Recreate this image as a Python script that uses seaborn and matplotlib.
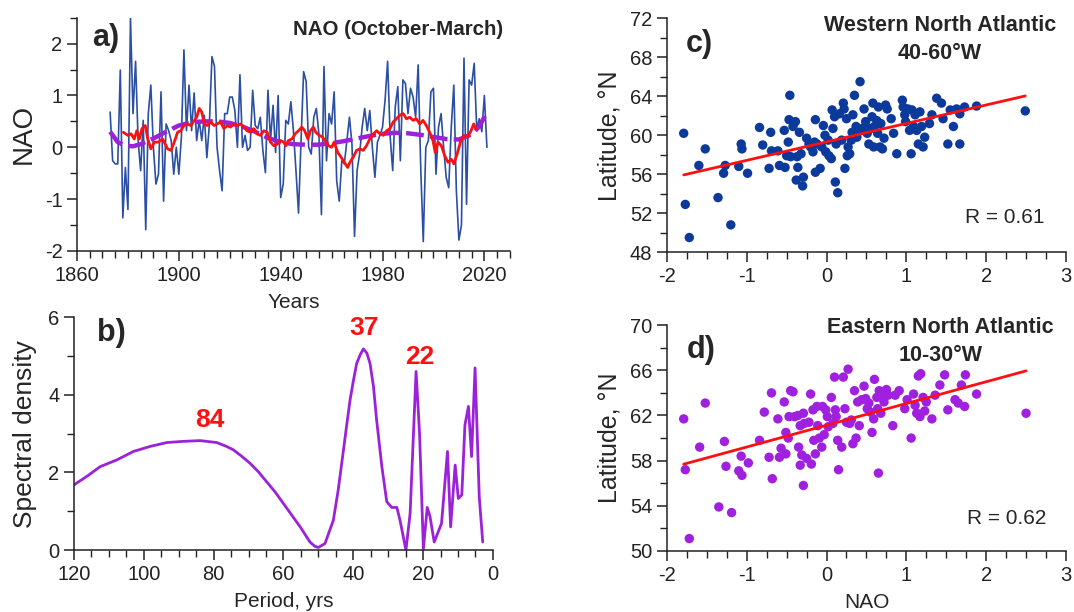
import numpy as np
import pandas as pd
import matplotlib
matplotlib.use("Agg")
import matplotlib.pyplot as plt
from matplotlib.ticker import MultipleLocator, FixedLocator
import seaborn as sns

# ---------------- data ----------------
nao_years = list(range(1873, 2022))
nao_values = [
    0.68, -0.26, -0.32, -0.32, 1.49, -1.36, -0.39, -1.2, 2.5, 0.65,      # 1873-1882
    1.66, 0.13, -0.45, 0.52, -1.59, 0.65, 1.2, 0.0, -0.71, -0.52,        # 1883-1892
    1.07, -1.04, 0.45, 0.32, 0.13, -0.52, 0.0, -0.52, 0.2, 1.88,         # 1893-1902
    0.32, 1.2, 0.32, 1.05, 0.13, 0.52, 0.13, 0.62, -0.2, 0.45,           # 1903-1912
    1.75, 1.56, 0.0, -0.45, -0.84, 0.65, 0.65, 0.97, 0.97, 0.71,         # 1913-1922
    0.0, 1.4, 0.0, 0.23, -0.06, 0.0, 1.1, 0.42, 0.36, 0.58,              # 1923-1932
    -0.06, -0.49, 1.1, 0.13, 0.81, -0.1, 1.0, -0.97, -0.71, 0.52,        # 1933-1942
    0.45, 0.88, 0.32, -0.45, -1.27, 0.13, 1.46, 1.27, 0.0, -0.13,        # 1943-1952
    0.58, 0.75, 0.26, -1.3, 1.56, -0.26, 0.65, 0.45, 1.07, -0.65,        # 1953-1962
    -1.04, -0.26, -0.32, 0.13, 0.58, 0.06, -1.72, -0.45, -0.13, 0.39,    # 1963-1972
    0.75, 0.32, 0.71, 0.0, -0.58, 0.1, 0.23, 0.39, 0.91, 1.66,           # 1973-1982
    0.2, -0.45, 0.78, 1.17, -0.26, 1.3, 1.23, 0.65, 1.14, 0.97,          # 1983-1992
    0.58, 1.59, -0.39, -1.82, 0.0, 0.13, 1.07, 1.14, -0.52, 0.39,        # 1993-2002
    0.65, 0.0, -0.58, -0.78, 0.39, 1.2, -0.84, -1.79, -1.5, 1.72,        # 2003-2012
    -1.1, 1.3, 1.2, 1.62, 0.35, 0.55, 0.3, 1.0, 0.0,                      # 2013-2021
]

# running mean curve (red)
red_years = [1878.2, 1880, 1881.2, 1882.5, 1883.5, 1884.5, 1885.5, 1886.8, 1887.8, 1889,
             1890.4, 1892, 1893.6, 1895.6, 1896.9, 1898.2, 1899.5, 1900.8, 1902, 1903.4,
             1904.7, 1905.7, 1907, 1908, 1909, 1910, 1911.2, 1912.5, 1913.8, 1915,
             1916.4, 1917.7, 1919, 1920.3, 1921.6, 1922.9, 1924.2, 1925.5, 1926.8, 1928.1,
             1929.4, 1930.7, 1932, 1933.4, 1934.7, 1936, 1937.3, 1938.6, 1939.9, 1941.2,
             1942, 1943, 1944.4, 1945.7, 1947, 1948.3, 1949.4, 1950.7, 1951.7, 1952.8,
             1953.8, 1955.1, 1956.4, 1957.7, 1958.8, 1960, 1961, 1962.4, 1963.7, 1965,
             1966.3, 1967.2, 1968.5, 1969.8, 1971.1, 1972.4, 1973.7, 1975, 1976.4, 1977.7,
             1979, 1980.3, 1981.6, 1982.9, 1984.2, 1985.5, 1986.8, 1988.1, 1989.4, 1990.7,
             1992, 1993.3, 1994.6, 1995.9, 1997.2, 1998.5, 1999.8, 2000.7, 2001.8, 2003.1,
             2004.4, 2005.7, 2007, 2008, 2009.3, 2010.6, 2011.9, 2013.2, 2014.5, 2015.8,
             2016.7]
red_values = [0.29, 0.23, 0.26, 0.16, 0.32, 0.16, 0.36, 0.42, 0.16, -0.03,
              0.1, 0.1, 0.16, -0.03, -0.06, 0.1, 0.29, 0.32, 0.42, 0.45,
              0.42, 0.49, 0.58, 0.75, 0.68, 0.45, 0.42, 0.49, 0.42, 0.45,
              0.49, 0.36, 0.42, 0.39, 0.45, 0.42, 0.45, 0.39, 0.32, 0.29,
              0.36, 0.26, 0.23, 0.32, 0.29, 0.1, 0.03, 0.06, 0.13, 0.1,
              0.03, 0.13, 0.16, 0.26, 0.32, 0.39, 0.32, 0.16, 0.32, 0.39,
              0.29, 0.23, 0.2, 0.1, 0.03, 0.0, 0.1, -0.1, -0.19, -0.29,
              -0.39, -0.29, -0.19, -0.06, -0.03, -0.06, 0.03, 0.16, 0.26, 0.32,
              0.26, 0.23, 0.32, 0.36, 0.49, 0.55, 0.62, 0.65, 0.55, 0.58,
              0.52, 0.55, 0.45, 0.52, 0.42, 0.29, 0.13, -0.1, 0.1, 0.03,
              -0.16, -0.29, -0.23, -0.32, -0.13, 0.1, 0.23, 0.2, 0.29, 0.45,
              0.36]

# smooth trend (purple dashed)
trend_years = [1873, 1876, 1879, 1882, 1885, 1890, 1895, 1900, 1905, 1910, 1915, 1920,
               1925, 1930, 1935, 1940, 1945, 1950, 1955, 1960, 1965, 1970, 1975, 1980,
               1985, 1990, 1995, 2000, 2005, 2010, 2015, 2018, 2021]
trend_values = [0.3, 0.1, 0.03, 0.02, 0.06, 0.17, 0.3, 0.42, 0.48, 0.5, 0.5, 0.47,
                0.4, 0.3, 0.18, 0.1, 0.06, 0.05, 0.05, 0.08, 0.12, 0.17, 0.22, 0.26,
                0.28, 0.27, 0.24, 0.2, 0.16, 0.15, 0.25, 0.4, 0.68]

# spectrum (panel b)
period = [120, 116, 112.5, 107.8, 103, 98.2, 93.4, 88.7, 83.9, 79.1, 76.3, 74.3, 72,
          69.6, 67.2, 64.8, 62.4, 60, 57.6, 55.2, 52.4, 51, 50, 48.1, 45.7, 44.3, 42.8,
          41.9, 40.9, 40, 39, 38, 37.1, 36.1, 35.2, 34.2, 33.3, 31.8, 30.4, 29, 27.5,
          26.6, 24.9, 23.7, 22, 21, 19.9, 18.8, 18, 16.8, 14.7, 13, 12.1, 10.8, 9.9, 8.9,
          8, 7, 6.1, 5.1, 3.9, 2.9]
spec_density = [1.68, 1.92, 2.15, 2.32, 2.54, 2.67, 2.77, 2.8, 2.82, 2.77, 2.67, 2.58,
                2.42, 2.24, 2.02, 1.76, 1.5, 1.2, 0.9, 0.6, 0.21, 0.1, 0.07, 0.17, 0.77,
                1.55, 2.58, 3.2, 3.87, 4.34, 4.81, 5.03, 5.18, 5.07, 4.81, 4.21, 3.35,
                2.15, 1.25, 1.1, 1.1, 0.77, 0.0, 0.95, 4.6, 3.0, 0.04, 1.1, 0.86, 0.21,
                0.69, 2.54, 0.6, 2.19, 1.33, 1.42, 3.22, 3.7, 2.41, 4.69, 1.38, 0.21]
peak_labels = ["84", "37", "22"]
peak_x = [81, 37, 21]
peak_y = [3.35, 5.72, 4.97]

# panel c: Western North Atlantic
c_nao = [-1.79, -1.77, -1.72, -1.6, -1.52, -1.36, -1.29, -1.27, -1.2, -1.1, -1.07, -1.06,
         -0.99, -0.84, -0.8, -0.72, -0.7, -0.69, -0.61, -0.59, -0.53, -0.52, -0.5, -0.48,
         -0.47, -0.46, -0.45, -0.42, -0.39, -0.37, -0.36, -0.34, -0.38, -0.32, -0.3, -0.29,
         -0.25, -0.22, -0.2, -0.17, -0.15, -0.14, -0.14, -0.12, -0.08, -0.06, -0.04, -0.02,
         -0.01, 0.02, 0.03, 0.06, 0.07, 0.08, 0.1, 0.11, 0.12, 0.14, 0.16, 0.19, 0.21, 0.22,
         0.23, 0.25, 0.26, 0.27, 0.29, 0.31, 0.32, 0.33, 0.35, 0.37, 0.38, 0.41, 0.42, 0.45,
         0.47, 0.49, 0.51, 0.53, 0.55, 0.57, 0.58, 0.59, 0.6, 0.63, 0.64, 0.65, 0.67, 0.68,
         0.7, 0.72, 0.74, 0.76, 0.81, 0.84, 0.88, 0.95, 0.96, 0.98, 0.99, 1.02, 1.04, 1.06,
         1.07, 1.09, 1.11, 1.13, 1.15, 1.17, 1.19, 1.21, 1.23, 1.29, 1.32, 1.38, 1.44, 1.46,
         1.52, 1.55, 1.59, 1.63, 1.67, 1.67, 1.73, 1.88, 2.49]
c_lat = [60.2, 52.9, 49.5, 56.9, 58.6, 53.6, 56.1, 56.9, 50.8, 56.8, 59.1, 58.6,
         56.1, 60.8, 59.0, 56.6, 60.3, 58.4, 58.4, 56.9, 60.5, 56.7, 57.9, 59.3,
         61.6, 64.1, 57.8, 60.9, 61.4, 57.8, 56.7, 60.3, 55.4, 58.1, 54.8, 55.7,
         59.7, 59.1, 58.8, 58.3, 59.3, 61.6, 56.2, 59.1, 56.6, 58.8, 61.0, 60.0,
         58.3, 59.5, 57.9, 57.6, 62.6, 60.7, 61.9, 55.2, 59.1, 54.1, 62.2, 59.5, 63.3, 62.7,
         56.6, 61.7, 57.9, 58.8, 58.1, 59.5, 60.3, 62.1, 64.1, 60.9, 59.8, 60.5, 65.5, 60.7,
         62.7, 61.4, 60.2, 59.1, 60.7, 61.9, 63.3, 58.8, 60.9, 61.5, 60.2, 62.9, 58.8, 61.2,
         58.6, 59.7, 63.1, 62.7, 61.7, 60.2, 58.1, 63.6, 62.9, 62.1, 61.4, 62.7, 60.5, 58.1,
         62.6, 60.9, 62.1, 60.5, 59.1, 62.4, 60.9, 58.8, 59.8, 61.2, 62.1, 63.8, 63.3, 61.7,
         59.1, 62.6, 60.9, 62.7, 59.1, 62.2, 62.9, 63.0, 62.5]

# panel d: Eastern North Atlantic
d_nao = [-1.79, -1.77, -1.72, -1.59, -1.52, -1.35, -1.28, -1.26, -1.19, -1.1, -1.07, -1.06,
         -0.98, -0.84, -0.78, -0.72, -0.69, -0.68, -0.61, -0.59, -0.57, -0.53, -0.51, -0.51,
         -0.48, -0.47, -0.45, -0.42, -0.4, -0.36, -0.35, -0.33, -0.33, -0.31, -0.29, -0.29,
         -0.28, -0.25, -0.22, -0.2, -0.19, -0.17, -0.16, -0.14, -0.12, -0.11, -0.09, -0.06,
         -0.05, -0.03, -0.01, 0.01, 0.02, 0.06, 0.08, 0.1, 0.11, 0.12, 0.14, 0.15, 0.19, 0.21,
         0.23, 0.25, 0.27, 0.29, 0.31, 0.33, 0.35, 0.37, 0.39, 0.41, 0.44, 0.47, 0.49, 0.51,
         0.53, 0.55, 0.57, 0.59, 0.6, 0.63, 0.64, 0.65, 0.66, 0.68, 0.7, 0.72, 0.75, 0.77,
         0.83, 0.86, 0.91, 0.98, 1.01, 1.06, 1.09, 1.11, 1.13, 1.15, 1.17, 1.18, 1.21, 1.23,
         1.25, 1.32, 1.36, 1.42, 1.48, 1.52, 1.61, 1.65, 1.69, 1.73, 1.74, 1.88, 2.5]
d_lat = [61.7, 57.2, 51.1, 59.2, 63.1, 53.9, 59.7, 57.5, 53.4, 57.1, 58.4, 56.7,
         57.8, 59.8, 62.3, 58.3, 64.0, 56.4, 61.7, 58.3, 59.1, 63.2, 60.5, 58.6,
         60.0, 61.9, 64.2, 64.1, 61.9, 62.0, 59.2, 57.6, 61.1, 58.5, 62.2, 55.8,
         61.3, 58.2, 61.4, 63.9, 57.7, 62.5, 59.8, 58.6, 62.8, 61.1, 60.0, 59.2,
         62.8, 60.3, 62.5, 61.9, 61.0, 63.6, 61.3, 65.4, 62.5, 61.9, 59.8, 57.2, 59.2, 65.4,
         62.6, 61.4, 66.1, 61.3, 61.6, 59.5, 64.2, 60.0, 63.2, 61.1, 63.4, 64.6, 63.5, 62.6,
         63.1, 62.3, 60.5, 61.7, 65.2, 63.6, 62.6, 56.9, 64.2, 62.2, 63.8, 63.2, 64.3, 63.8,
         61.1, 63.8, 64.2, 62.6, 63.4, 60.0, 63.9, 62.9, 62.2, 65.5, 61.9, 65.7, 63.6, 62.4,
         63.2, 61.7, 63.8, 64.7, 65.6, 62.5, 63.4, 63.1, 64.7, 62.8, 65.6, 63.9, 62.2]

# axis ticks
a_xticks = [1860, 1900, 1940, 1980, 2020]
d_yticks = [50, 54, 58, 62, 66, 70]

# ---------------- style ----------------
sns.set_theme(style="ticks")
plt.rcParams["font.family"] = ["Liberation Sans", "DejaVu Sans"]
plt.rcParams["axes.unicode_minus"] = False
plt.rcParams["axes.linewidth"] = 1.1
plt.rcParams["xtick.major.width"] = 1.1
plt.rcParams["ytick.major.width"] = 1.1
plt.rcParams["xtick.minor.width"] = 1.0
plt.rcParams["ytick.minor.width"] = 1.0
plt.rcParams["xtick.major.size"] = 7
plt.rcParams["ytick.major.size"] = 7
plt.rcParams["xtick.minor.size"] = 5
plt.rcParams["ytick.minor.size"] = 5
plt.rcParams["xtick.color"] = "#222222"
plt.rcParams["ytick.color"] = "#222222"
plt.rcParams["axes.edgecolor"] = "#222222"

TICK_FS = 14.5
XLAB_FS = 15
PANEL_FS = 22
TITLE_FS = 15.5

BLUE_LINE = "#2b4fa3"
RED = "#ff1010"
PURPLE = "#9b22d8"
NAVY_DOT = "#0b3a9c"
PURPLE_DOT = "#a020e0"

fig = plt.figure(figsize=(10.74, 6.12), dpi=100)
ax_a = fig.add_axes([0.0717, 0.590, 0.403, 0.381])
ax_b = fig.add_axes([0.0689, 0.101, 0.390, 0.381])
ax_c = fig.add_axes([0.621, 0.588, 0.3715, 0.382])
ax_d = fig.add_axes([0.621, 0.0997, 0.3715, 0.369])

for ax in (ax_a, ax_b, ax_c, ax_d):
    sns.despine(ax=ax)
    ax.tick_params(axis="both", which="both", direction="out", labelsize=TICK_FS)

# ---------------- panel a ----------------
df_nao = pd.DataFrame({"year": nao_years, "nao": nao_values})
df_red = pd.DataFrame({"year": red_years, "val": red_values})
df_tr = pd.DataFrame({"year": trend_years, "val": trend_values})
sns.lineplot(data=df_nao, x="year", y="nao", ax=ax_a, color=BLUE_LINE, lw=1.2)
sns.lineplot(data=df_tr, x="year", y="val", ax=ax_a, color=PURPLE, lw=3.2,
             linestyle=(0, (4, 1.4)))
sns.lineplot(data=df_red, x="year", y="val", ax=ax_a, color=RED, lw=2.0)
ax_a.set_xlim(1860, 2030)
ax_a.set_ylim(-2, 2.5)
ax_a.xaxis.set_major_locator(FixedLocator(a_xticks))
ax_a.xaxis.set_minor_locator(MultipleLocator(5))
ax_a.yaxis.set_major_locator(MultipleLocator(1))
ax_a.yaxis.set_minor_locator(MultipleLocator(0.5))
ax_a.set_xlabel("Years", fontsize=XLAB_FS, labelpad=6)
ax_a.set_ylabel("NAO", fontsize=20, labelpad=6)
ax_a.text(0.035, 0.915, "a)", transform=ax_a.transAxes, fontsize=PANEL_FS,
          fontweight="bold", va="center", ha="left")
ax_a.text(0.985, 0.95, "NAO (October-March)", transform=ax_a.transAxes, fontsize=14.8,
          fontweight="bold", va="center", ha="right")

# ---------------- panel b ----------------
df_sp = pd.DataFrame({"period": period, "dens": spec_density})
sns.lineplot(data=df_sp, x="period", y="dens", ax=ax_b, color=PURPLE, lw=2.0,
             sort=False)
ax_b.set_xlim(120, 0)
ax_b.set_ylim(0, 6)
ax_b.xaxis.set_major_locator(MultipleLocator(20))
ax_b.xaxis.set_minor_locator(MultipleLocator(5))
ax_b.yaxis.set_major_locator(MultipleLocator(2))
ax_b.yaxis.set_minor_locator(MultipleLocator(1))
ax_b.set_xlabel("Period, yrs", fontsize=XLAB_FS, labelpad=6)
ax_b.set_ylabel("Spectral density", fontsize=19, labelpad=8)
ax_b.text(0.055, 0.93, "b)", transform=ax_b.transAxes, fontsize=PANEL_FS,
          fontweight="bold", va="center", ha="left")
for lab, px, py in zip(peak_labels, peak_x, peak_y):
    ax_b.text(px, py, lab, color=RED, fontsize=19, fontweight="bold",
              ha="center", va="center")

# ---------------- panel c ----------------
df_c = pd.DataFrame({"nao": c_nao, "lat": c_lat})
sns.scatterplot(data=df_c, x="nao", y="lat", ax=ax_c, color=NAVY_DOT, s=46,
                edgecolor="none", zorder=2)
sns.regplot(data=df_c, x="nao", y="lat", ax=ax_c, scatter=False, ci=None,
            truncate=True, line_kws={"color": RED, "lw": 2.0, "zorder": 3})
ax_c.set_xlim(-2, 3)
ax_c.set_ylim(48, 72)
ax_c.xaxis.set_major_locator(MultipleLocator(1))
ax_c.xaxis.set_minor_locator(MultipleLocator(0.25))
ax_c.yaxis.set_major_locator(MultipleLocator(4))
ax_c.yaxis.set_minor_locator(MultipleLocator(2))
ax_c.set_xlabel("")
ax_c.set_ylabel("Latitude, \u00b0N", fontsize=18, labelpad=6)
ax_c.text(0.048, 0.89, "c)", transform=ax_c.transAxes, fontsize=PANEL_FS,
          fontweight="bold", va="center", ha="left")
ax_c.text(0.684, 0.97, "Western North Atlantic", transform=ax_c.transAxes,
          fontsize=TITLE_FS, fontweight="bold", ha="center", va="center")
ax_c.text(0.684, 0.85, "40-60\u00b0W", transform=ax_c.transAxes,
          fontsize=TITLE_FS, fontweight="bold", ha="center", va="center")
ax_c.text(0.947, 0.15, "R = 0.61", transform=ax_c.transAxes, fontsize=15,
          ha="right", va="center")

# ---------------- panel d ----------------
df_d = pd.DataFrame({"nao": d_nao, "lat": d_lat})
sns.scatterplot(data=df_d, x="nao", y="lat", ax=ax_d, color=PURPLE_DOT, s=46,
                edgecolor="none", zorder=2)
sns.regplot(data=df_d, x="nao", y="lat", ax=ax_d, scatter=False, ci=None,
            truncate=True, line_kws={"color": RED, "lw": 2.0, "zorder": 3})
ax_d.set_xlim(-2, 3)
ax_d.set_ylim(50, 70)
ax_d.xaxis.set_major_locator(MultipleLocator(1))
ax_d.xaxis.set_minor_locator(MultipleLocator(0.25))
ax_d.yaxis.set_major_locator(FixedLocator(d_yticks))
ax_d.yaxis.set_minor_locator(MultipleLocator(2))
ax_d.set_xlabel("NAO", fontsize=XLAB_FS, labelpad=6)
ax_d.set_ylabel("Latitude, \u00b0N", fontsize=18, labelpad=6)
ax_d.text(0.05, 0.89, "d)", transform=ax_d.transAxes, fontsize=PANEL_FS,
          fontweight="bold", va="center", ha="left")
ax_d.text(0.686, 0.99, "Eastern North Atlantic", transform=ax_d.transAxes,
          fontsize=TITLE_FS, fontweight="bold", ha="center", va="center")
ax_d.text(0.686, 0.867, "10-30\u00b0W", transform=ax_d.transAxes,
          fontsize=TITLE_FS, fontweight="bold", ha="center", va="center")
ax_d.text(0.95, 0.146, "R = 0.62", transform=ax_d.transAxes, fontsize=15,
          ha="right", va="center")

fig.savefig("out.png", dpi=100)
